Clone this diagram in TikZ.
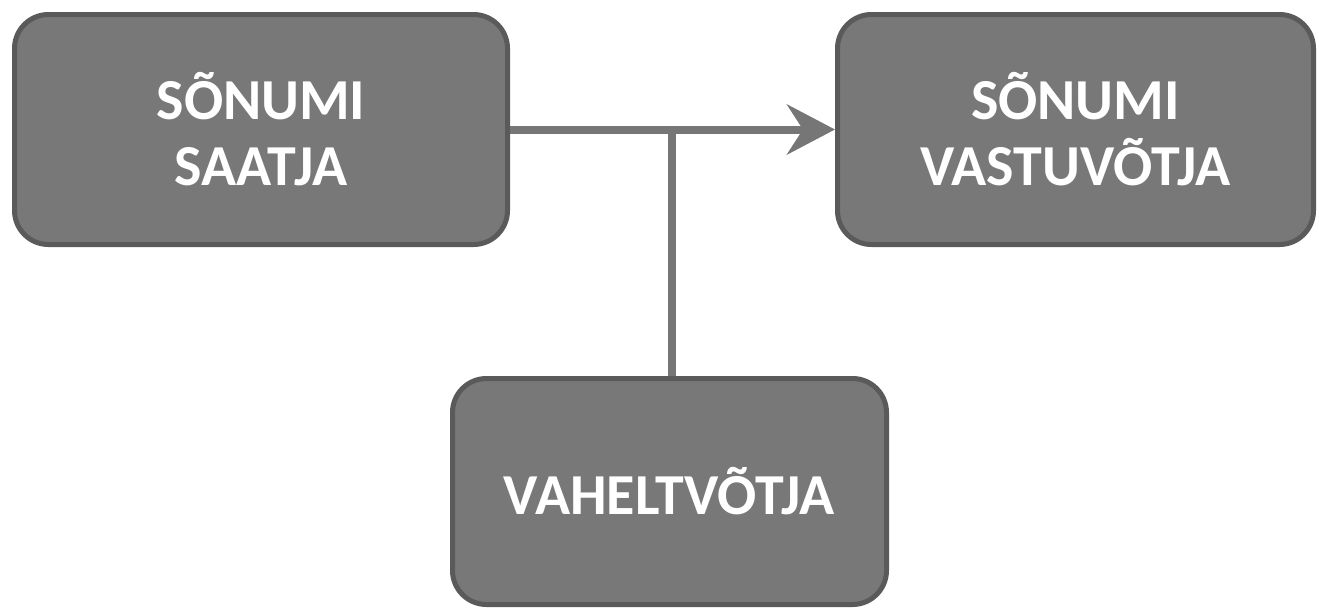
\documentclass[tikz,border=0pt]{standalone}
\usepackage{fontspec}
\setmainfont{Carlito}
\usetikzlibrary{arrows.meta}
\definecolor{boxfill}{RGB}{120,120,120}
\definecolor{boxline}{RGB}{90,90,90}
\definecolor{conn}{RGB}{118,118,118}
\begin{document}
\begin{tikzpicture}[x=0.5pt,y=-0.5pt,
  box/.style={draw=boxline, fill=boxfill, line width=2.5pt, rounded corners=17pt,
    text=white, align=center, font=\fontsize{29}{33}\selectfont\bfseries, inner sep=0pt},
  conline/.style={draw=conn, line width=4pt}]
\useasboundingbox (0,0) rectangle (1319,611);
\node[box, minimum width=246.5pt, minimum height=115pt] (snd) at (261,129.5) {SÕNUMI\\SAATJA};
\node[box, minimum width=238pt, minimum height=115pt] (rcv) at (1075.5,129.5) {SÕNUMI\\VASTUVÕTJA};
\node[box, minimum width=217pt, minimum height=113pt] (mid) at (669.5,491.5) {VAHELTVÕTJA};
\coordinate (j) at ([xshift=1pt]mid.north |- snd.east);
\draw[conline, -{Stealth[length=24pt, width=25pt, inset=8pt]}] (snd.east) -- (rcv.west);
\draw[conline] ([xshift=1pt]mid.north) -- ([yshift=2pt]j);
\end{tikzpicture}
\end{document}
